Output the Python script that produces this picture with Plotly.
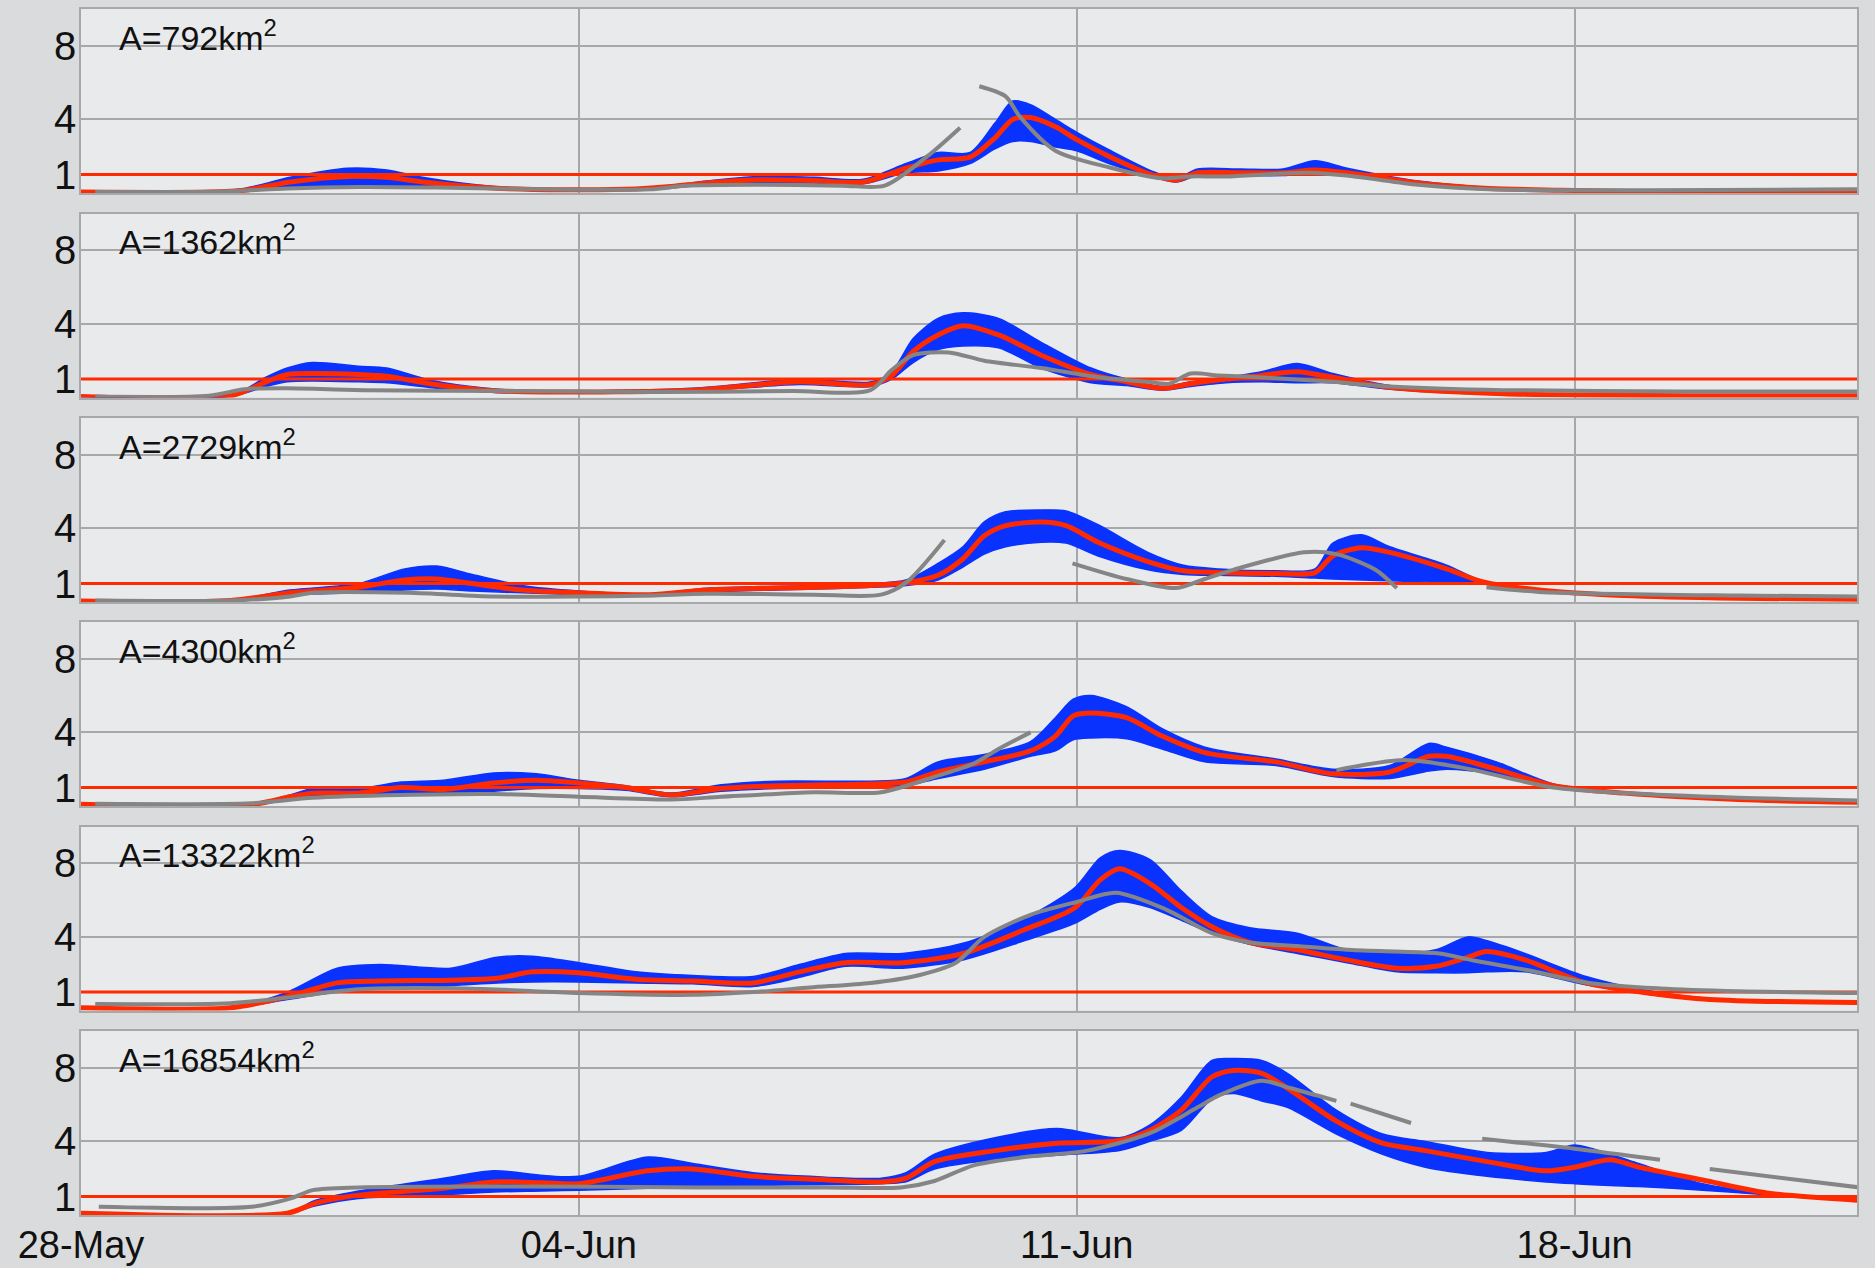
import pandas as pd
import plotly.graph_objects as go
from plotly.subplots import make_subplots

# ---------------- data (days after 28 May 2013, values) ----------------
START = "2013-05-28"
TICK_DAYS = [0, 7, 14, 21]
TICK_LABELS = ["28-May", "04-Jun", "11-Jun", "18-Jun"]
Y_TICKS = [1, 4, 8]
THRESHOLD = 1.0
AREAS = ["A=792km<sup>2</sup>", "A=1362km<sup>2</sup>", "A=2729km<sup>2</sup>",
         "A=4300km<sup>2</sup>", "A=13322km<sup>2</sup>", "A=16854km<sup>2</sup>"]

p1_days = [0, 1.8, 2.3, 2.94, 3.75, 4.3, 4.8, 5.8, 6.8, 7.8, 8.3, 8.8, 9.5, 10.3, 11.0, 11.6, 12.05, 12.5, 12.85, 13.1,
           13.35, 13.7, 14.0, 14.45, 15.05, 15.4, 15.7, 16.3, 16.9, 17.35, 17.8, 18.8, 19.8, 20.8, 22.2, 25]
p1_med = [0.05, 0.05, 0.15, 0.6, 0.9, 0.85, 0.6, 0.27, 0.18, 0.22, 0.35, 0.55, 0.72, 0.68, 0.6, 1.35, 1.8, 1.95, 3.0, 4.0,
          4.1, 3.6, 2.9, 2.0, 1.0, 0.7, 1.1, 1.1, 1.1, 1.25, 1.1, 0.55, 0.25, 0.15, 0.06, 0.05]
p1_hi = [0.06, 0.07, 0.25, 0.85, 1.35, 1.25, 0.85, 0.35, 0.22, 0.25, 0.42, 0.65, 0.9, 0.85, 0.75, 1.6, 2.2, 2.2, 3.8, 5.0,
         4.8, 4.0, 3.3, 2.35, 1.2, 0.8, 1.3, 1.3, 1.3, 1.75, 1.35, 0.65, 0.3, 0.18, 0.08, 0.06]
p1_lo = [0.04, 0.04, 0.1, 0.35, 0.4, 0.4, 0.35, 0.2, 0.15, 0.19, 0.3, 0.45, 0.55, 0.55, 0.5, 1.1, 1.2, 1.6, 2.4, 2.8,
         2.8, 2.5, 2.3, 1.6, 0.9, 0.6, 0.95, 0.95, 0.95, 1.05, 0.95, 0.45, 0.2, 0.12, 0.04, 0.04]
p1_obs_days = [0.2, 2.0, 2.9, 3.9, 5.0, 6.5, 8.0, 8.5, 9.5, 10.7, 11.3, 11.9, 12.36, 12.5, 12.63, 13.0, 13.2, 13.7,
               14.45, 15.2, 15.6, 16.1, 17.26, 17.9, 18.8, 19.8, 22.0, 25]
p1_obs = [0.05, 0.08, 0.25, 0.33, 0.3, 0.2, 0.2, 0.4, 0.45, 0.4, 0.4, 2.0, 3.55, None, 5.8, 5.25, 4.15, 2.3,
          1.4, 0.8, 0.9, 0.9, 1.1, 0.9, 0.45, 0.2, 0.15, 0.2]

p2_days = [0, 2.1, 2.6, 2.9, 3.25, 3.9, 4.3, 4.9, 5.7, 6.5, 8.6, 10.1, 11.1, 11.4, 11.7, 12.05, 12.4, 12.9, 13.5, 14.2,
           14.7, 15.2, 15.6, 16.1, 16.6, 17.1, 17.6, 18.4, 20, 22.5, 25]
p2_med = [0.05, 0.08, 0.85, 1.25, 1.3, 1.25, 1.15, 0.75, 0.4, 0.3, 0.4, 0.85, 0.7, 1.2, 2.5, 3.4, 3.9, 3.4, 2.3, 1.25,
          0.85, 0.5, 0.75, 1.0, 1.2, 1.4, 1.1, 0.55, 0.2, 0.1, 0.1]
p2_hi = [0.05, 0.1, 1.1, 1.6, 1.9, 1.7, 1.6, 0.95, 0.5, 0.35, 0.5, 1.0, 0.85, 1.4, 3.2, 4.3, 4.6, 4.3, 3.0, 1.6,
         1.0, 0.6, 0.85, 1.1, 1.4, 1.85, 1.3, 0.65, 0.25, 0.12, 0.12]
p2_lo = [0.04, 0.06, 0.6, 0.85, 0.9, 0.85, 0.8, 0.55, 0.3, 0.25, 0.35, 0.7, 0.6, 1.0, 1.9, 2.6, 2.8, 2.7, 1.6, 0.8,
         0.65, 0.4, 0.6, 0.8, 0.85, 0.8, 0.8, 0.45, 0.15, 0.08, 0.08]
p2_obs_days = [0.2, 1.8, 2.3, 2.9, 4.0, 6.0, 8.0, 10.0, 11.1, 11.4, 11.7, 12.2, 12.7, 13.5, 14.3, 15.0, 15.3, 15.6,
               16.0, 16.8, 17.6, 18.4, 20.0, 22.5, 25]
p2_obs = [0.05, 0.1, 0.45, 0.5, 0.4, 0.35, 0.3, 0.35, 0.4, 1.5, 2.3, 2.45, 2.0, 1.6, 1.1, 0.85, 0.75, 1.3,
          1.2, 1.05, 0.85, 0.6, 0.4, 0.33, 0.33]

p3_days = [0, 2.1, 2.94, 3.9, 4.55, 5.0, 5.5, 6.2, 7.0, 8.0, 8.8, 10.3, 11.1, 11.6, 12.05, 12.4, 12.7, 13.0, 13.5, 13.85,
           14.3, 15.0, 15.5, 16.0, 16.8, 17.35, 17.6, 18.0, 18.4, 19.2, 19.7, 20.5, 21.7, 23.3, 25]
p3_med = [0.05, 0.08, 0.5, 0.8, 1.2, 1.25, 1.0, 0.65, 0.5, 0.4, 0.65, 0.8, 0.9, 1.05, 1.45, 2.35, 3.6, 4.15, 4.35, 4.15,
          3.25, 2.2, 1.7, 1.6, 1.55, 1.6, 2.5, 2.95, 2.7, 1.8, 1.1, 0.65, 0.35, 0.2, 0.15]
p3_hi = [0.05, 0.1, 0.65, 1.0, 1.8, 1.95, 1.5, 0.9, 0.6, 0.45, 0.75, 0.9, 1.0, 1.2, 2.1, 3.0, 4.35, 4.9, 5.0, 4.95,
         4.2, 2.7, 2.0, 1.8, 1.7, 1.8, 3.2, 3.65, 3.0, 2.0, 1.15, 0.7, 0.4, 0.22, 0.17]
p3_lo = [0.04, 0.06, 0.4, 0.5, 0.65, 0.7, 0.6, 0.5, 0.4, 0.35, 0.55, 0.7, 0.8, 0.9, 1.2, 1.9, 2.6, 3.0, 3.25, 3.2,
         2.5, 1.75, 1.5, 1.45, 1.4, 1.3, 1.25, 1.2, 1.15, 1.05, 1.0, 0.6, 0.3, 0.18, 0.13]
p3_obs_days = [0.2, 2.1, 2.94, 3.26, 4.6, 5.8, 7.0, 8.0, 8.8, 10.3, 11.25, 11.6, 12.14, 13.0, 13.94, 14.7, 15.4, 15.8,
               16.2, 17.2, 17.65, 18.2, 18.5, 19.1, 19.76, 20.5, 23.3, 25]
p3_obs = [0.08, 0.08, 0.3, 0.5, 0.5, 0.3, 0.3, 0.35, 0.45, 0.4, 0.4, 1.05, 3.37, None, 2.1, 1.25, 0.76, 1.25,
          1.75, 2.7, 2.6, 1.75, 0.75, None, 0.8, 0.55, 0.35, 0.3]

p4_days = [0, 2.4, 2.94, 3.26, 3.9, 4.5, 5.1, 5.8, 6.4, 7.0, 7.66, 8.3, 9.0, 9.8, 11.1, 11.6, 12.05, 12.7, 13.35, 13.7,
           13.95, 14.2, 14.7, 15.2, 15.8, 16.8, 17.6, 18.4, 18.95, 19.2, 19.9, 20.7, 21.7, 23.3, 25]
p4_med = [0.1, 0.08, 0.5, 0.7, 0.7, 1.0, 0.9, 1.25, 1.4, 1.25, 1.0, 0.6, 0.95, 1.1, 1.2, 1.3, 1.85, 2.4, 3.0, 3.8,
          4.9, 5.05, 4.8, 3.8, 2.9, 2.4, 1.75, 1.85, 2.7, 2.7, 2.0, 1.1, 0.7, 0.35, 0.2]
p4_hi = [0.12, 0.1, 0.6, 0.95, 0.95, 1.3, 1.4, 1.8, 1.75, 1.4, 1.1, 0.7, 1.15, 1.35, 1.35, 1.5, 2.4, 2.8, 3.5, 4.8,
         5.8, 6.0, 5.4, 4.2, 3.2, 2.55, 2.0, 2.2, 3.4, 3.2, 2.4, 1.2, 0.75, 0.38, 0.22]
p4_lo = [0.08, 0.06, 0.4, 0.55, 0.55, 0.7, 0.6, 0.8, 0.95, 0.95, 0.85, 0.5, 0.8, 0.95, 1.0, 1.1, 1.5, 2.0, 2.7, 3.0,
         3.6, 3.7, 3.65, 3.1, 2.4, 2.2, 1.6, 1.5, 1.9, 2.0, 1.75, 1.05, 0.65, 0.32, 0.18]
p4_obs_days = [0.2, 2.4, 3.26, 4.5, 5.8, 7.0, 8.3, 9.0, 10.3, 11.25, 12.05, 12.55, 12.9, 13.35, 15.5, 17.65, 18.6,
               19.4, 20.7, 21.7, 23.3, 25]
p4_obs = [0.12, 0.15, 0.45, 0.6, 0.65, 0.5, 0.35, 0.5, 0.75, 0.75, 1.65, 2.3, 3.1, 4.0, None, 1.95, 2.5,
          2.1, 1.0, 0.7, 0.45, 0.3]

p5_days = [0, 2.1, 2.9, 3.6, 4.2, 5.2, 5.85, 6.35, 7.0, 7.8, 8.6, 9.45, 10.1, 10.75, 11.55, 12.4, 13.27, 13.98, 14.33,
           14.6, 15.03, 15.47, 15.9, 16.43, 17.1, 17.8, 18.5, 19.05, 19.5, 19.76, 20.3, 21.16, 22.0, 22.9, 25]
p5_med = [0.15, 0.15, 0.75, 1.5, 1.6, 1.65, 1.75, 2.1, 2.05, 1.7, 1.6, 1.5, 2.1, 2.6, 2.6, 3.1, 4.4, 5.6, 7.1,
          7.7, 6.9, 5.6, 4.55, 3.7, 3.3, 2.75, 2.3, 2.4, 2.9, 3.2, 2.75, 1.5, 0.97, 0.6, 0.43]
p5_hi = [0.15, 0.17, 1.0, 2.3, 2.5, 2.3, 2.9, 2.95, 2.6, 2.1, 1.9, 1.85, 2.5, 3.1, 3.1, 3.65, 5.0, 6.7, 8.3,
         8.7, 8.2, 6.5, 5.1, 4.5, 4.2, 3.3, 3.1, 3.3, 4.0, 3.8, 3.1, 1.85, 1.1, 0.65, 0.45]
p5_lo = [0.13, 0.13, 0.6, 1.0, 1.2, 1.35, 1.5, 1.55, 1.55, 1.5, 1.45, 1.3, 1.8, 2.4, 2.3, 2.75, 3.8, 4.75, 5.5,
         5.9, 5.6, 4.9, 4.2, 3.6, 3.1, 2.6, 2.1, 2.05, 2.05, 2.1, 2.1, 1.4, 0.9, 0.55, 0.41]
p5_obs_days = [0.2, 2.1, 2.9, 3.9, 5.4, 7.0, 8.6, 9.45, 10.25, 11.1, 11.7, 12.3, 12.7, 13.35, 14.0, 14.55, 15.25,
               15.9, 16.43, 17.1, 17.8, 18.5, 19.1, 19.6, 20.4, 21.2, 22.2, 23.3, 25]
p5_obs = [0.35, 0.4, 0.7, 1.15, 1.2, 0.95, 0.85, 1.0, 1.25, 1.5, 1.85, 2.6, 4.0, 5.2, 5.9, 6.4, 5.5,
          4.2, 3.7, 3.5, 3.3, 3.2, 3.1, 2.7, 2.15, 1.5, 1.2, 1.05, 0.95]

p6_days = [0, 2.9, 3.3, 3.9, 5.1, 5.8, 6.5, 7.0, 7.97, 8.6, 9.45, 10.25, 11.25, 11.6, 12.0, 12.85, 13.72, 14.6, 15.03,
           15.47, 15.9, 16.2, 16.6, 16.96, 17.65, 18.3, 18.9, 19.77, 20.6, 21.0, 21.5, 21.9, 22.8, 23.7, 25]
p6_med = [0.1, 0.1, 0.65, 1.08, 1.45, 1.8, 1.75, 1.7, 2.4, 2.5, 2.1, 1.95, 1.8, 2.0, 2.9, 3.5, 3.9, 4.05, 4.6,
          5.7, 7.5, 7.85, 7.7, 6.9, 5.1, 3.9, 3.5, 2.9, 2.4, 2.6, 3.0, 2.6, 1.9, 1.2, 0.8]
p6_hi = [0.1, 0.12, 0.8, 1.3, 2.0, 2.4, 2.15, 2.1, 3.15, 2.8, 2.3, 2.1, 2.0, 2.3, 3.3, 4.2, 4.7, 4.2, 4.9,
         6.4, 8.4, 8.5, 8.4, 7.7, 5.7, 4.4, 4.0, 3.4, 3.4, 3.8, 3.3, 2.8, 1.7, 1.2, 0.82]
p6_lo = [0.08, 0.08, 0.5, 0.9, 1.1, 1.25, 1.3, 1.35, 1.45, 1.5, 1.6, 1.65, 1.7, 1.8, 2.5, 3.0, 3.25, 3.5, 4.0,
         4.6, 6.3, 6.6, 6.2, 5.85, 4.4, 3.3, 2.6, 2.1, 1.8, 1.7, 1.6, 1.55, 1.35, 1.1, 0.78]
p6_obs_days = [0.25, 2.4, 2.95, 3.26, 3.9, 6.0, 8.7, 10.5, 11.53, 12.0, 12.55, 13.27, 14.15, 15.03, 15.7, 16.0, 16.6,
               17.0, 17.65, 17.75, 17.85, 18.7, 19.2, 19.7, 21.0, 22.2, 22.5, 22.9, 25]
p6_obs = [0.45, 0.45, 0.9, 1.35, 1.5, 1.55, 1.5, 1.5, 1.5, 1.85, 2.7, 3.15, 3.5, 4.45, 5.85, 6.5, 7.3,
          6.9, 6.2, None, 6.05, 5.0, None, 4.15, 3.6, 3.0, None, 2.5, 1.5]

PANELS = [
    (p1_days, p1_lo, p1_med, p1_hi, p1_obs_days, p1_obs),
    (p2_days, p2_lo, p2_med, p2_hi, p2_obs_days, p2_obs),
    (p3_days, p3_lo, p3_med, p3_hi, p3_obs_days, p3_obs),
    (p4_days, p4_lo, p4_med, p4_hi, p4_obs_days, p4_obs),
    (p5_days, p5_lo, p5_med, p5_hi, p5_obs_days, p5_obs),
    (p6_days, p6_lo, p6_med, p6_hi, p6_obs_days, p6_obs),
]

# ---------------- styling / layout ----------------
W, H = 1875, 1268
BLUE = "#0a32ff"
RED = "#ff2a00"
GREY = "#858585"
GRID = "#a6a8aa"
PAPER = "#d9dbdd"
FONT = "Liberation Sans, Arial, sans-serif"

base = pd.Timestamp(START)


def dates(days):
    return [base + pd.Timedelta(days=d) for d in days]


x_end = base + pd.Timedelta(days=24.97)

# panel pixel tops (full image) and height
PANEL_TOPS = [9, 213.5, 418, 622, 826.5, 1031]
PANEL_H = 184
X0, X1 = 81, 1857

fig = make_subplots(rows=6, cols=1, shared_xaxes=False, vertical_spacing=0.01)

for i, (days, lo, med, hi, odays, obs) in enumerate(PANELS):
    r = i + 1
    xd = dates(days)
    fig.add_trace(go.Scatter(x=xd, y=lo, mode="lines", line=dict(color=BLUE, width=1.5, shape="spline", smoothing=0.8),
                             hoverinfo="skip", showlegend=False), row=r, col=1)
    fig.add_trace(go.Scatter(x=xd, y=hi, mode="lines", fill="tonexty", fillcolor=BLUE,
                             line=dict(color=BLUE, width=1.5, shape="spline", smoothing=0.8),
                             hoverinfo="skip", showlegend=False), row=r, col=1)
    fig.add_trace(go.Scatter(x=[base, x_end], y=[THRESHOLD, THRESHOLD], mode="lines",
                             line=dict(color=RED, width=3), showlegend=False), row=r, col=1)
    fig.add_trace(go.Scatter(x=xd, y=med, mode="lines",
                             line=dict(color=RED, width=5, shape="spline", smoothing=0.8),
                             showlegend=False), row=r, col=1)
    fig.add_trace(go.Scatter(x=dates(odays), y=obs, mode="lines", connectgaps=False,
                             line=dict(color=GREY, width=4, shape="spline", smoothing=0.8),
                             showlegend=False), row=r, col=1)

    top = PANEL_TOPS[i]
    bot = top + PANEL_H
    fig.update_yaxes(row=r, col=1, domain=[1 - bot / H, 1 - top / H], range=[0, 10],
                     tickvals=Y_TICKS, ticktext=[str(v) for v in Y_TICKS],
                     showgrid=True, gridcolor=GRID, gridwidth=1.5, zeroline=False,
                     showline=True, linecolor=GRID, linewidth=1.5, mirror=True,
                     ticks="", ticklabelstandoff=-5,
                     tickfont=dict(family=FONT, size=40, color="#111111"),
                     automargin=False, fixedrange=True)
    fig.update_xaxes(row=r, col=1, type="date", range=[base, x_end], domain=[X0 / W, X1 / W],
                     tickvals=dates(TICK_DAYS), ticktext=TICK_LABELS,
                     showticklabels=(r == 6), showgrid=True, gridcolor=GRID, gridwidth=1.5,
                     zeroline=False, showline=True, linecolor=GRID, linewidth=1.5, mirror=True,
                     ticks="", ticklabelstandoff=-4,
                     tickfont=dict(family=FONT, size=38, color="#111111"),
                     automargin=False, fixedrange=True)
    xref = "x domain" if r == 1 else f"x{r} domain"
    yref = "y domain" if r == 1 else f"y{r} domain"
    fig.add_annotation(x=0.02, y=0.985, xref=xref, yref=yref, xanchor="left", yanchor="top",
                       text=AREAS[i], showarrow=False,
                       font=dict(family=FONT, size=34, color="#111111"))

fig.update_layout(width=W, height=H, margin=dict(l=0, r=0, t=0, b=0),
                  paper_bgcolor=PAPER, plot_bgcolor="#e8eaec", showlegend=False)

fig.write_html("out.html", config={"displayModeBar": False},
               post_script="document.body.style.margin='0';document.body.style.background='%s';"
                           "document.documentElement.style.overflow='hidden';" % PAPER)
